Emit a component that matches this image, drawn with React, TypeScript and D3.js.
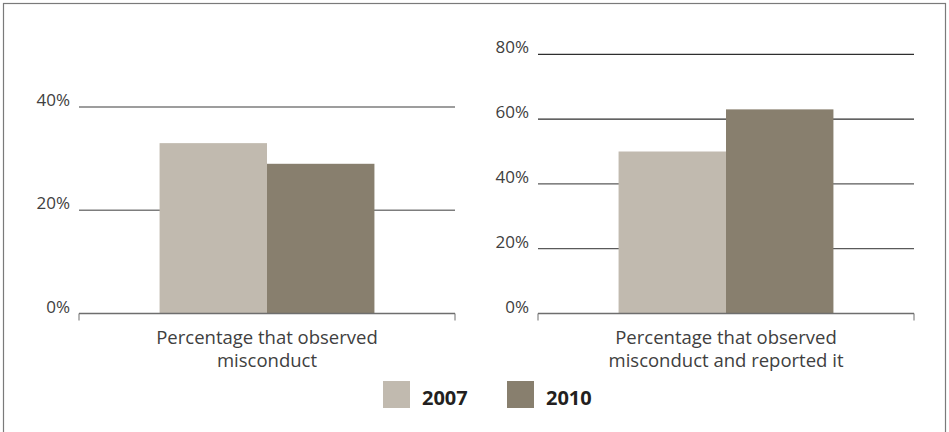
import React from "react";
import * as d3 from "d3";

const years = ["2007", "2010"];
const seriesColors = ["#c1baaf", "#887f6e"];

const panelCategories = [
  ["Percentage that observed", "misconduct"],
  ["Percentage that observed", "misconduct and reported it"],
];
const observedValues = [33, 29];
const reportedValues = [50, 63];
const observedTicks = [0, 20, 40];
const reportedTicks = [0, 20, 40, 60, 80];
const observedMax = 40;
const reportedMax = 80;

const W = 949;
const H = 432;
const FONT = "'Open Sans', 'Noto Sans', sans-serif";

type PanelProps = {
  x0: number;
  x1: number;
  yTop: number;
  yBottom: number;
  max: number;
  ticks: number[];
  values: number[];
  label: string[];
  gridColors: (t: number) => string;
};

function Panel({ x0, x1, yTop, yBottom, max, ticks, values, label, gridColors }: PanelProps) {
  const y = d3.scaleLinear().domain([0, max]).range([yBottom, yTop]);
  const key = label.join(" ");
  const outer = d3.scaleBand().domain([key]).range([x0, x1]).paddingOuter(0.375);
  const inner = d3
    .scaleBand()
    .domain(years)
    .range([outer(key)!, outer(key)! + outer.bandwidth()]);
  const cx = (x0 + x1) / 2;
  return (
    <g>
      {ticks
        .filter((t) => t > 0)
        .map((t) => (
          <line key={t} x1={x0} x2={x1} y1={y(t)} y2={y(t)} stroke={gridColors(t)} strokeWidth={1.3} />
        ))}
      {ticks.map((t) => (
        <text
          key={"l" + t}
          x={x0 - 9}
          y={y(t) - 1}
          textAnchor="end"
          fontFamily={FONT}
          fontSize={17}
          fill="#404040"
        >
          {t}%
        </text>
      ))}
      {values.map((v, i) => (
        <rect
          key={years[i]}
          x={inner(years[i])}
          y={y(v)}
          width={inner.bandwidth()}
          height={y(0) - y(v)}
          fill={seriesColors[i]}
        />
      ))}
      <line x1={x0} x2={x1} y1={y(0)} y2={y(0)} stroke="#6e6e6e" strokeWidth={1.3} />
      <line x1={x0} x2={x0} y1={y(0)} y2={y(0) + 7} stroke="#6e6e6e" strokeWidth={1} />
      <line x1={x1} x2={x1} y1={y(0)} y2={y(0) + 7} stroke="#6e6e6e" strokeWidth={1} />
      {label.map((l, i) => (
        <text
          key={"c" + i}
          x={cx}
          y={yBottom + 30 + i * 23.5}
          textAnchor="middle"
          fontFamily={FONT}
          fontSize={18.5}
          fill="#404040"
        >
          {l}
        </text>
      ))}
    </g>
  );
}

export default function App() {
  return (
    <svg
      width={W}
      height={H}
      style={{ position: "absolute", left: 0, top: 0, background: "#fff" }}
    >
      <rect x={3.5} y={3.5} width={942} height={H} fill="#fff" stroke="#7a7a7a" strokeWidth={1.2} />
      <Panel
        x0={79}
        x1={455}
        yTop={107}
        yBottom={313.5}
        max={observedMax}
        ticks={observedTicks}
        values={observedValues}
        label={panelCategories[0]}
        gridColors={() => "#7d7d7d"}
      />
      <Panel
        x0={538}
        x1={914}
        yTop={54.3}
        yBottom={313.5}
        max={reportedMax}
        ticks={reportedTicks}
        values={reportedValues}
        label={panelCategories[1]}
        gridColors={(t) => (t >= 60 ? "#2e2e2e" : "#5a5a5a")}
      />
      {years.map((yr, i) => (
        <g key={yr} transform={`translate(${383 + i * 124},381)`}>
          <rect width={27} height={27} fill={seriesColors[i]} />
          <text x={39} y={24} fontFamily={FONT} fontWeight={700} fontSize={20} fill="#231f20">
            {yr}
          </text>
        </g>
      ))}
    </svg>
  );
}
